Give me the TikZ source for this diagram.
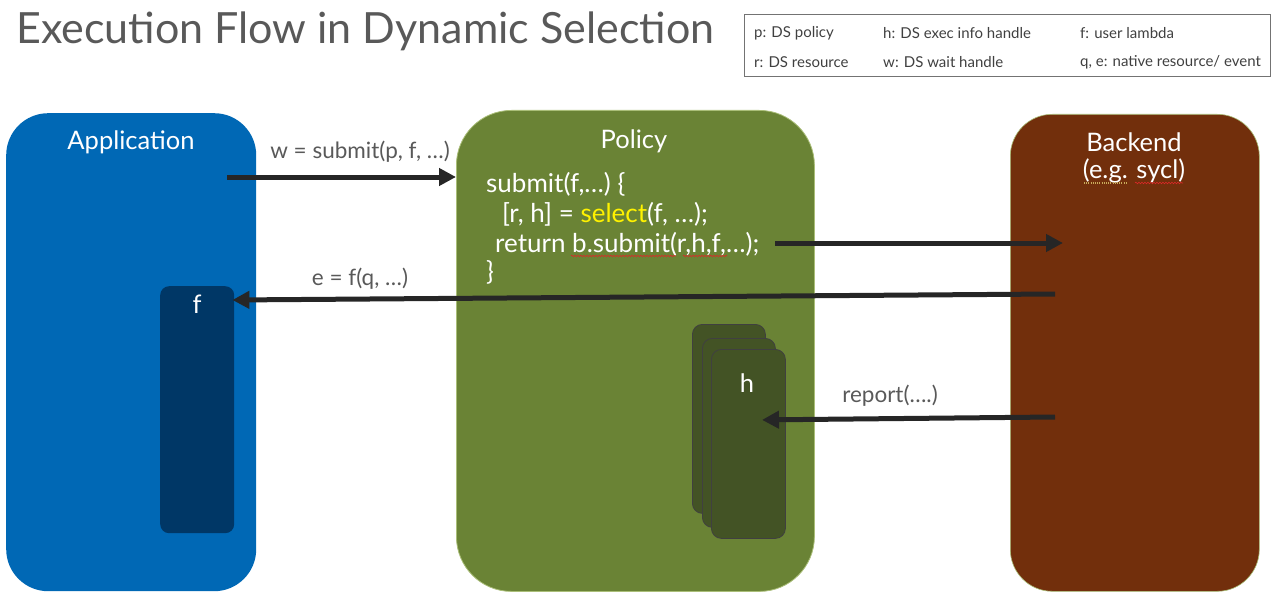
\documentclass[tikz,border=0pt]{standalone}
\usepackage{fontspec}
\setmainfont{Lato}
\usetikzlibrary{arrows.meta,calc,decorations.pathmorphing}
\definecolor{appblue}{RGB}{0,104,181}
\definecolor{fdark}{RGB}{0,55,102}
\definecolor{polgreen}{RGB}{106,131,53}
\definecolor{poledge}{RGB}{170,190,120}
\definecolor{hgreen}{RGB}{67,83,37}
\definecolor{bebrown}{RGB}{114,47,12}
\definecolor{arrowgray}{RGB}{38,38,38}
\definecolor{labelgray}{RGB}{89,89,89}
\definecolor{spellred}{RGB}{220,40,40}
\definecolor{dotgold}{RGB}{200,170,90}

\begin{document}
\begin{tikzpicture}[x=1pt,y=-1pt,
  panel/.style={inner sep=0pt, anchor=north west, rounded corners=42pt},
  hcard/.style={inner sep=0pt, anchor=north west, rounded corners=10pt,
    fill=hgreen, draw=black!75, line width=0.8pt,
    minimum width=73pt, minimum height=189pt},
  boxtitle/.style={text=white, font=\fontsize{25.5}{30}\selectfont, inner sep=0pt},
  codeline/.style={text=white, font=\fontsize{26}{30}\selectfont, inner sep=0pt, anchor=base west},
  flowlabel/.style={text=labelgray, font=\fontsize{22.5}{26}\selectfont, inner sep=0pt},
  legendtext/.style={text=black!75, font=\fontsize{15}{18}\selectfont, inner sep=0pt, anchor=west},
  flow/.style={draw=arrowgray, line width=5pt, -{Triangle[length=17pt,width=17pt]}},
  squiggle/.style={draw=spellred, line width=0.6pt,
    decorate, decoration={snake, amplitude=0.8pt, segment length=3pt}},
]
\useasboundingbox (0,0) rectangle (1276,599);

% title
\node[text=labelgray, font=\fontsize{43}{50}\selectfont, inner sep=0pt, anchor=west]
  (title) at (16,31) {Execution Flow in Dynamic Selection};

% legend
\node[draw=black!55, line width=1pt, inner sep=0pt, anchor=north west,
  minimum width=526pt, minimum height=62pt] (legend) at (744,14) {};
\node[legendtext] (lp) at (754,33) {p: DS policy};
\node[legendtext] (lh) at (883,33) {h: DS exec info handle};
\node[legendtext] (lf) at (1080,33) {f: user lambda};
\node[legendtext] (lr) at (754,62) {r: DS resource};
\node[legendtext] (lw) at (883,62) {w: DS wait handle};
\node[legendtext] (lq) at (1080,62) {q, e: native resource/ event};

% the three columns
\node[panel, fill=appblue, minimum width=250pt, minimum height=478pt] (app) at (6,113) {};
\node[panel, fill=polgreen, draw=poledge, line width=0.8pt, rounded corners=55pt,
  minimum width=358pt, minimum height=481pt] (pol) at (456,110) {};
\node[panel, fill=bebrown, draw=poledge, line width=0.6pt,
  minimum width=249pt, minimum height=477pt] (be) at (1010,114) {};

\node[boxtitle] (apptitle) at (131,142) {Application};
\node[boxtitle] (poltitle) at (634,141) {Policy};
\node[boxtitle] (betitle) at (1134,142) {Backend};
\node[boxtitle] (besub) at (1134,171) {(e.g. sycl)};

% user lambda inside the application
\node[inner sep=0pt, anchor=north west, rounded corners=9pt, fill=fdark,
  minimum width=74pt, minimum height=247pt] (fbox) at (160,286) {};
\node[boxtitle] (ftitle) at (197,304) {f};

% policy code
\node[codeline] (c1) at (486,192) {submit(f,…) \{};
\node[codeline] (c2) at (502,222) {[r, h] = \textcolor{yellow}{select}(f, …);};
\node[codeline] (c3) at (495,252) {return b.submit(r,h,f,…);};
\node[codeline] (c4) at (486,280) {\}};
\draw[squiggle] (571,256) -- (676,256);
\draw[squiggle] (683,256) -- (727,256);

% underlines in the backend title
\draw[dotgold, line width=1.4pt, dash pattern=on 1pt off 1.2pt] (1084,183) -- (1127,183);
\draw[squiggle] (1135,183) -- (1183,183);

% stacked exec info handles
\node[hcard] (h1) at (692,324) {};
\node[hcard] (h2) at (702,338) {};
\node[hcard, minimum width=74pt] (h3) at (711,349) {};
\node[boxtitle] (htitle) at (747,383) {h};

% connectors
\coordinate (a1s) at (227,177);
\draw[flow] (a1s) -- (pol.west |- a1s);
\node[flowlabel] (l1) at (360,152) {w = submit(p, f, …)};

\coordinate (a2s) at (775,243);
\coordinate (a2e) at (1063,243);
\draw[flow] (a2s) -- (a2e);

\coordinate (a3s) at (1055,294);
\draw[flow] (a3s) -- ($(fbox.north east)+(-2,14)$);
\node[flowlabel] (l3) at (360,279) {e = f(q, …)};

\coordinate (a4s) at (1055,417);
\draw[flow] (a4s) -- ($(h3.west)+(51,-24)$);
\node[flowlabel] (l4) at (890,396) {report(….)};
\end{tikzpicture}
\end{document}
